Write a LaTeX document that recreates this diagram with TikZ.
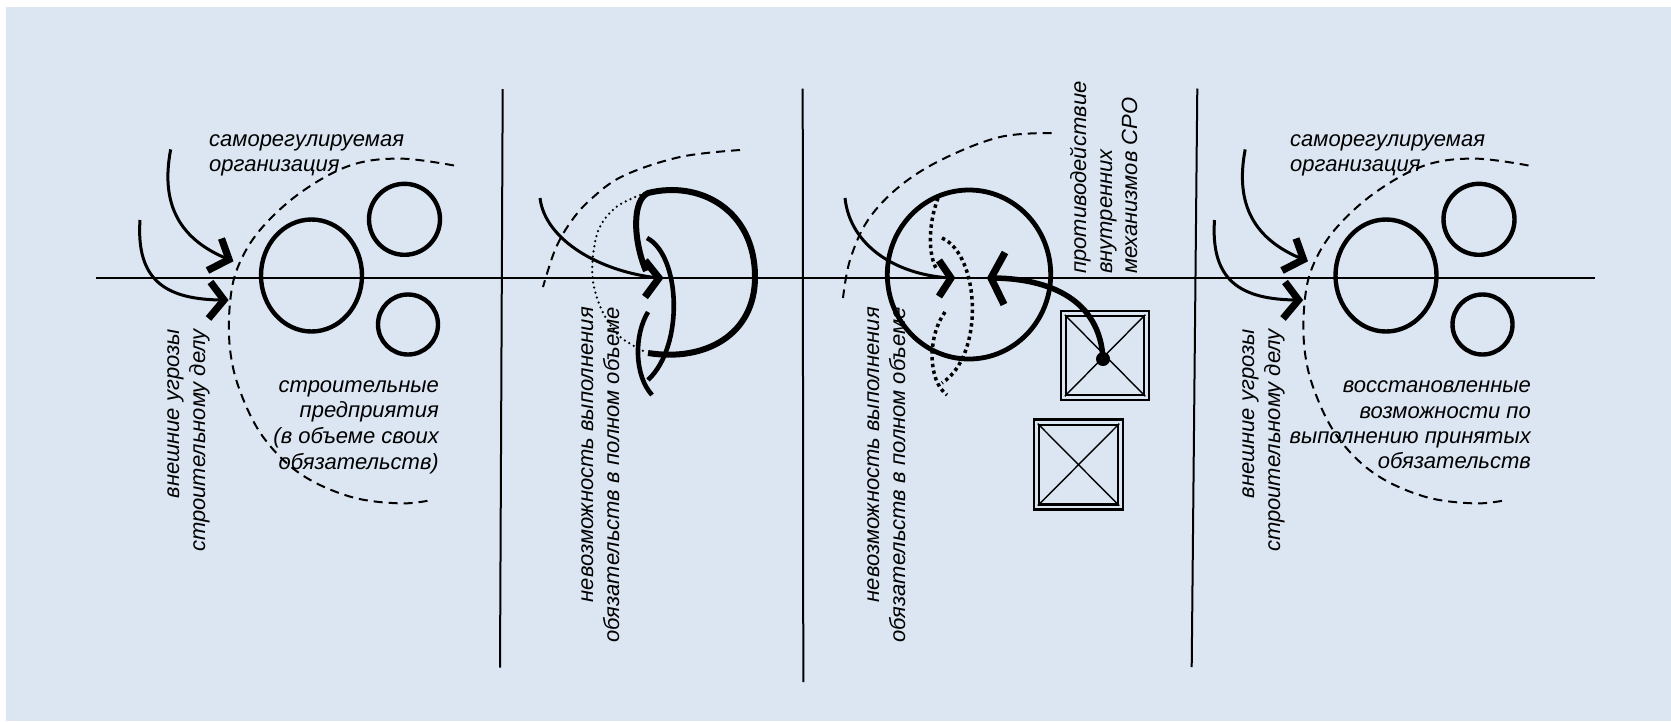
\documentclass[tikz,border=0pt]{standalone}
\usepackage{fontspec}
\setmainfont{Liberation Sans}
\definecolor{bgblue}{HTML}{DCE6F2}
\begin{document}
\begin{tikzpicture}[x=1pt,y=-1pt,
  txt/.style={font=\fontsize{22}{26}\selectfont\itshape, inner sep=0pt},
  rtxt/.style={txt, rotate=90},
  rulel/.style={line width=2pt},
  axisl/.style={line width=1.7pt},
  thinarc/.style={line width=3pt},
  chev/.style={line width=7.2pt, miter limit=10, line join=miter},
  boldline/.style={line width=4.4pt},
  dashedge/.style={line width=2pt, dash pattern=on 9pt off 6pt},
  finedots/.style={line width=2.5pt, line cap=round, dash pattern=on 0pt off 5.2pt},
  squaredots/.style={line width=3.5pt, dash pattern=on 3.4pt off 3.4pt},
  boxo/.style={draw, line width=2.5pt, inner sep=0pt},
  diag/.style={line width=1.4pt},
]
\useasboundingbox (0,0) rectangle (1671,721);
\fill[white] (0,0) rectangle (1671,721);
\fill[bgblue] (6,7) rectangle (1671,721);

% axis and separators
\coordinate (axL) at (96,278);
\coordinate (axR) at (1595,278);
\draw[axisl] (axL) -- (axR);
\coordinate (v1t) at (502.7,89);   \coordinate (v1b) at (500,667.5);
\coordinate (v2t) at (802.7,88.5); \coordinate (v2b) at (803.3,682);
\coordinate (v3t) at (1197.3,88.5);\coordinate (v3b) at (1191.7,667);
\draw[rulel] (v1t) -- (v1b);
\draw[rulel] (v2t) -- (v2b);
\draw[rulel] (v3t) -- (v3b);

% panels 1 and 4 (same drawing)
\foreach \dx/\p in {0/a,1074.5/d}{
  \begin{scope}[xshift=\dx pt]
    \draw[boldline] (311.5,275.5) ellipse [x radius=50.5pt, y radius=56pt];
    \draw[boldline] (404.5,219.3) circle (35.5pt);
    \draw[boldline] (408,324.5) circle (30pt);
    \draw[dashedge] plot[smooth, tension=0.6] coordinates {(454,165.5) (400,158.6) (350,165.5) (300,193) (260,230) (238,266.7) (230,303) (230,349) (240,391) (263,436.8) (300,473.6) (350,496.6) (400,503.4) (431.7,500)};
    \coordinate (sA\p) at (170.7,149.4);
    \coordinate (tA\p) at (229,259.5);
    \coordinate (sB\p) at (140,220);
    \coordinate (tB\p) at (224,300);
    \draw[thinarc] (sA\p) .. controls (160,205) and (180,240) .. (tA\p);
    \draw[thinarc] (sB\p) .. controls (136,280) and (165,300) .. (tB\p);
    \draw[chev] (221.5,238.5) -- (tA\p) -- (207.5,270.5);
    \draw[chev] (210.5,282) -- (tB\p) -- (208.5,318.5);
  \end{scope}
}

% panel 1 texts
\node[txt, anchor=base west] (p1t1) at (209,146) {саморегулируемая};
\node[txt, anchor=base west] (p1t2) at (209,171) {организация};
\node[txt, anchor=base east] (p1b1) at (439,392) {строительные};
\node[txt, anchor=base east] (p1b2) at (439,417.5) {предприятия};
\node[txt, anchor=base east] (p1b3) at (439,443) {(в объеме своих};
\node[txt, anchor=base east] (p1b4) at (439,469) {обязательств)};
\node[rtxt, anchor=base east] (p1r1) at (179,329) {внешние угрозы};
\node[rtxt, anchor=base east] (p1r2) at (205,329) {строительному делу};

% panel 4 texts
\node[txt, anchor=base west] (p4t1) at (1290,146) {саморегулируемая};
\node[txt, anchor=base west] (p4t2) at (1290,171) {организация};
\node[txt, anchor=base east] (p4b1) at (1531,392) {восстановленные};
\node[txt, anchor=base east] (p4b2) at (1531,418) {возможности по};
\node[txt, anchor=base east] (p4b3) at (1531,443) {выполнению принятых};
\node[txt, anchor=base east] (p4b4) at (1531,468) {обязательств};
\node[rtxt, anchor=base east] (p4r1) at (1254,329) {внешние угрозы};
\node[rtxt, anchor=base east] (p4r2) at (1280,329) {строительному делу};

% panel 2
\draw[dashedge] plot[smooth, tension=0.6] coordinates {(740,150) (680,157) (623,176) (590,200) (570,223) (555,250) (543,287)};
\draw[finedots] plot[smooth, tension=0.6] coordinates {(640,195) (616.7,206.7) (600,226.7) (593.3,253.3) (593.3,283.3) (603.3,313.3) (620,336.7) (646.7,352.7)};
\draw[line width=6pt] (646,271) .. controls (633,240) and (632,200) .. (648,193)
   .. controls (700,180) and (755,210) .. (755,277)
   .. controls (755,335) and (705,362) .. (648,353);
\draw[line width=4.6pt] (647,238) .. controls (680,255) and (685,345) .. (648,380);
\draw[line width=4.6pt] (648,312) .. controls (634,335) and (634,375) .. (652,395);
\coordinate (s2) at (540,198);
\coordinate (t2) at (659,278);
\draw[thinarc] (s2) .. controls (545,240) and (600,272) .. (t2);
\draw[chev] (645,260.5) -- (t2) -- (645,297);
\node[rtxt, anchor=base east] (p2r1) at (593,307) {невозможность выполнения};
\node[rtxt, anchor=base east] (p2r2) at (619,307) {обязательств в полном объеме};

% panel 3
\draw[dashedge] plot[smooth, tension=0.6] coordinates {(1051.7,133) (1000,137) (943,159) (900,186) (868,220) (850,260) (843,298)};
\draw[line width=4.8pt] (969,274.5) ellipse [x radius=81.7pt, y radius=84.5pt];
\draw[squaredots] (938,198) .. controls (928,225) and (928,255) .. (937,270);
\draw[squaredots] (942,238) .. controls (980,255) and (985,355) .. (942,383);
\draw[squaredots] (945,312) .. controls (928,335) and (927,380) .. (947,395);
\coordinate (s3) at (845,198);
\coordinate (t3) at (951,278);
\draw[thinarc] (s3) .. controls (850,245) and (895,275) .. (t3);
\draw[chev] (939,260.5) -- (t3) -- (939,296.5);

\node[boxo, minimum width=88pt, minimum height=89pt] (box1) at (1105,355.5) {};
\node[boxo, minimum width=78pt, minimum height=79pt] (box1i) at (1105,355.5) {};
\draw[diag] (box1i.north west) -- (box1i.south east);
\draw[diag] (box1i.north east) -- (box1i.south west);
\node[boxo, minimum width=89pt, minimum height=90pt] (box2) at (1078.5,464.7) {};
\node[boxo, minimum width=79pt, minimum height=79.5pt] (box2i) at (1078.5,464.7) {};
\draw[diag] (box2i.north west) -- (box2i.south east);
\draw[diag] (box2i.north east) -- (box2i.south west);

\node[circle, fill, inner sep=0pt, minimum size=14pt] (dot) at (1103,359) {};
\coordinate (t3b) at (991,278);
\draw[line width=5.5pt] (dot.center) .. controls (1100,300) and (1050,278) .. (t3b);
\draw[chev] (1005,252.5) -- (t3b) -- (1004,304.5);

\node[rtxt, anchor=base east] (p3r1) at (879,307) {невозможность выполнения};
\node[rtxt, anchor=base east] (p3r2) at (905,307) {обязательств в полном объеме};
\node[rtxt, anchor=base west] (p3c1) at (1086,274) {противодействие};
\node[rtxt, anchor=base west] (p3c2) at (1112,274) {внутренних};
\node[rtxt, anchor=base west] (p3c3) at (1137,274) {механизмов СРО};
\end{tikzpicture}
\end{document}
